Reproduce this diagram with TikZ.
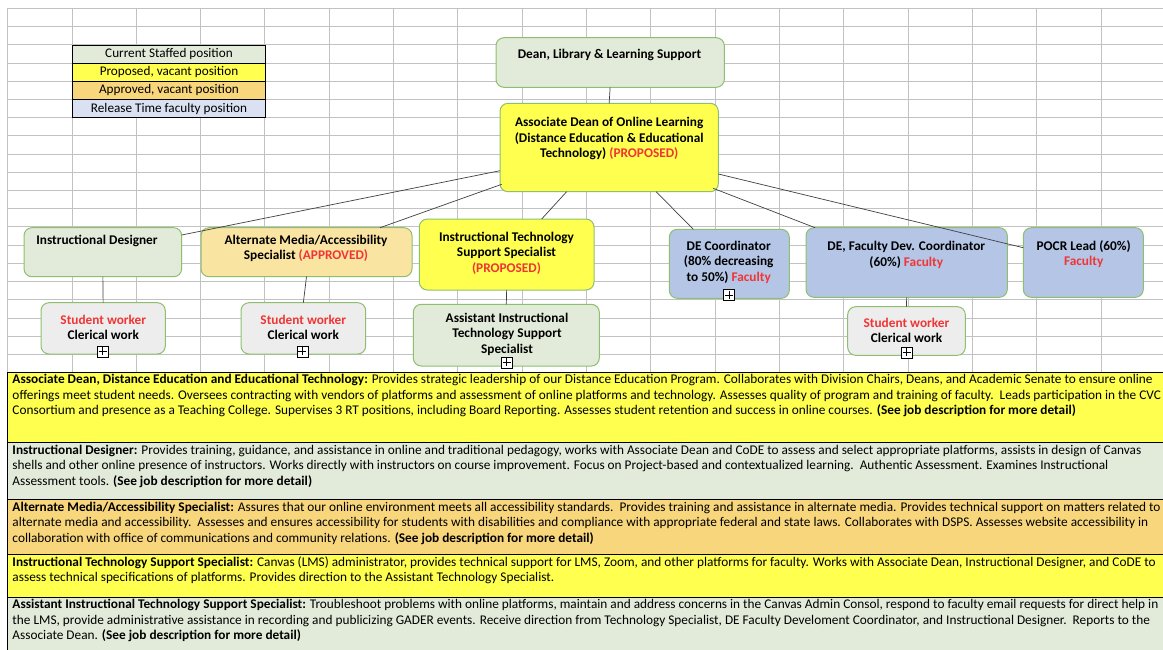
\documentclass[tikz,border=0pt]{standalone}
\usepackage{fontspec}
\setmainfont{Carlito}
\usetikzlibrary{calc}

\definecolor{gridc}{HTML}{C2C2C2}
\definecolor{staffed}{HTML}{E2EBDA}
\definecolor{proposed}{HTML}{FFFF50}
\definecolor{approved}{HTML}{F8D67C}
\definecolor{altfill}{HTML}{FAE4A2}
\definecolor{release}{HTML}{D9E1F2}
\definecolor{facfill}{HTML}{B4C5E6}
\definecolor{swfill}{HTML}{EDEDED}
\definecolor{boxline}{HTML}{8EBF6E}
\definecolor{redt}{HTML}{F03535}
\definecolor{conn}{HTML}{404040}

\newcommand{\orgbox}[6]{%
  \node[orgbox, fill=#6, minimum width={#4pt-#2pt}, minimum height={#5pt-#3pt}]
    (#1) at ({(#2+#4)/2},{(#3+#5)/2}) {};}

\tikzset{
  gridline/.style={draw=gridc, line width=0.9pt},
  orgbox/.style={draw=boxline, line width=1pt, rounded corners=8pt, inner sep=0pt, outer sep=0pt},
  boxtext/.style={font=\fontsize{13.3}{15.6}\selectfont\bfseries, align=center, inner sep=0pt},
  legcell/.style={draw=black, line width=0.8pt},
  legtext/.style={font=\fontsize{13.2}{14}\selectfont, inner sep=0pt},
  connector/.style={draw=conn, line width=0.7pt},
  plusbox/.style={draw=black, fill=white, minimum size=11pt, inner sep=0pt, line width=0.6pt,
    path picture={\draw[line width=0.6pt]
      ([yshift=-1.5pt]path picture bounding box.north) -- ([yshift=1.5pt]path picture bounding box.south)
      ([xshift=1.5pt]path picture bounding box.west) -- ([xshift=-1.5pt]path picture bounding box.east);}},
  rowline/.style={draw=black, line width=1pt},
  rowtext/.style={font=\fontsize{13.3}{15.5}\selectfont, anchor=base west, inner sep=0pt},
}

\begin{document}
\begin{tikzpicture}[x=1pt,y=-1pt]
\useasboundingbox (0,0) rectangle (1163,649);
\clip (0,0) rectangle (1163,649);
\fill[white] (0,0) rectangle (1163,649);

% spreadsheet grid
\foreach \k in {0,...,18} {\draw[gridline] ({7.7+64.31*\k},8.3) -- ({7.7+64.31*\k},372.5);}
\foreach \k in {0,...,20} {\draw[gridline] (7.7,{8.3+18.22*\k}) -- (1170,{8.3+18.22*\k});}

% legend
\filldraw[legcell, fill=staffed]  (72.3,45)   rectangle (265.7,63.3);
\filldraw[legcell, fill=proposed] (72.3,63.3) rectangle (265.7,81.3);
\filldraw[legcell, fill=approved] (72.3,81.3) rectangle (265.7,99.3);
\filldraw[legcell, fill=release]  (72.3,99.3) rectangle (265.7,117.7);
\node[legtext] (leg1) at (169,54.2)  {Current Staffed position};
\node[legtext] (leg2) at (169,72.3)  {Proposed, vacant position};
\node[legtext] (leg3) at (169,90.3)  {Approved, vacant position};
\node[legtext] (leg4) at (169,108.5) {Release Time faculty position};

% boxes
\orgbox{dean}{496}{37.7}{724.3}{87.3}{staffed}
\orgbox{assoc}{500}{103.3}{718.3}{191.7}{proposed}
\orgbox{id}{24}{227.7}{181.7}{276.7}{staffed}
\orgbox{alt}{201}{227.7}{412}{276.7}{altfill}
\orgbox{itss}{419.3}{219}{594}{290}{proposed}
\orgbox{aitss}{413.3}{304.3}{599.3}{366}{staffed}
\orgbox{decoord}{669.3}{229.3}{789.3}{298.3}{facfill}
\orgbox{defdc}{806}{227.7}{1007.3}{297.3}{facfill}
\orgbox{pocr}{1023.3}{227.7}{1143.3}{297.3}{facfill}
\orgbox{swa}{41}{302.7}{165.3}{354}{swfill}
\orgbox{swb}{241}{302.7}{365.7}{354}{swfill}
\orgbox{swc}{847.7}{306.7}{965.3}{355.3}{swfill}

% box texts
\node[boxtext] (deanT) at (609.5,54.5) {Dean, Library \& Learning Support};
\node[boxtext] (assocT) at (609.2,138.6) {Associate Dean of Online Learning\\(Distance Education \& Educational\\Technology) \textcolor{redt}{(PROPOSED)}};
\node[boxtext] (idT) at (97,240.9) {Instructional Designer};
\node[boxtext] (altT) at (306,248.4) {Alternate Media/Accessibility\\Specialist \textcolor{redt}{(APPROVED)}};
\node[boxtext] (itssT) at (506.5,253.2) {Instructional Technology\\Support Specialist\\\textcolor{redt}{(PROPOSED)}};
\node[boxtext] (aitssT) at (507,334.2) {Assistant Instructional\\Technology Support\\Specialist};
\node[boxtext] (decoordT) at (728.7,262.2) {DE Coordinator\\(80\% decreasing\\to 50\%) \textcolor{redt}{Faculty}};
\node[boxtext] (defdcT) at (906.3,254.6) {DE, Faculty Dev. Coordinator\\(60\%) \textcolor{redt}{Faculty}};
\node[boxtext] (pocrT) at (1083.7,254.2) {POCR Lead (60\%)\\\textcolor{redt}{Faculty}};
\node[boxtext] (swaT) at (103.3,327.2) {\textcolor{redt}{Student worker}\\Clerical work};
\node[boxtext] (swbT) at (303.3,327.2) {\textcolor{redt}{Student worker}\\Clerical work};
\node[boxtext] (swcT) at (906.5,330.2) {\textcolor{redt}{Student worker}\\Clerical work};

% expand markers
\node[plusbox] (pa) at (102.7,351.4) {};
\node[plusbox] (pb) at (302.3,351.4) {};
\node[plusbox] (pc) at (506.7,362.4) {};
\node[plusbox] (pd) at (729,294.8) {};
\node[plusbox] (pe) at (906.7,352.4) {};

% connectors
\draw[connector] (dean.south) -- (assoc.north);
\draw[connector] ([yshift=-23.2pt]assoc.west) -- ([yshift=17.2pt]id.east);
\draw[connector] ([xshift=1.7pt,yshift=-36.8pt]assoc.west) -- ([xshift=73.5pt]alt.north);
\draw[connector] ([xshift=-42.5pt]assoc.south) -- ([xshift=35pt]itss.north);
\draw[connector] ([xshift=47pt]assoc.south) -- ([xshift=-36pt]decoord.north);
\draw[connector] ([xshift=104pt,yshift=3.4pt]assoc.south) -- ([xshift=-91.6pt]defdc.north);
\draw[connector] ([yshift=-26.5pt]assoc.east) -- ([yshift=14.8pt]pocr.west);
\draw[connector] (id.south) -- (swa.north);
\draw[connector] (alt.south) -- (swb.north);
\draw[connector] (itss.south) -- (aitss.north);
\draw[connector] (defdc.south) -- (swc.north);

% description table
\filldraw[rowline, fill=proposed] (7.7,372.3) rectangle (1175,442.3);
\filldraw[rowline, fill=staffed]  (7.7,442.3) rectangle (1175,499.3);
\filldraw[rowline, fill=approved] (7.7,499.3) rectangle (1175,554.3);
\filldraw[rowline, fill=proposed] (7.7,554.3) rectangle (1175,597.7);
\filldraw[rowline, fill=staffed]  (7.7,597.7) rectangle (1175,660);

\node[rowtext] (r1a) at (12.3,383.6) {\textbf{Associate Dean, Distance Education and Educational Technology:} Provides strategic leadership of our Distance Education Program. Collaborates with Division Chairs, Deans, and Academic Senate to ensure online};
\node[rowtext] (r1b) at (12.3,399.1) {offerings meet student needs. Oversees contracting with vendors of platforms and assessment of online platforms and technology. Assesses quality of program and training of faculty.\ \ Leads participation in the CVC};
\node[rowtext] (r1c) at (12.3,414.6) {Consortium and presence as a Teaching College. Supervises 3 RT positions, including Board Reporting. Assesses student retention and success in online courses. \textbf{(See job description for more detail)}};

\node[rowtext] (r2a) at (12.3,454.3) {\textbf{Instructional Designer:} Provides training, guidance, and assistance in online and traditional pedagogy, works with Associate Dean and CoDE to assess and select appropriate platforms, assists in design of Canvas};
\node[rowtext] (r2b) at (12.3,469.8) {shells and other online presence of instructors. Works directly with instructors on course improvement. Focus on Project-based and contextualized learning.\ \ Authentic Assessment. Examines Instructional};
\node[rowtext] (r2c) at (12.3,485.3) {Assessment tools. \textbf{(See job description for more detail)}};

\node[rowtext] (r3a) at (12.3,511.0) {\textbf{Alternate Media/Accessibility Specialist:} Assures that our online environment meets all accessibility standards.\ \ Provides training and assistance in alternate media. Provides technical support on matters related to};
\node[rowtext] (r3b) at (12.3,526.5) {alternate media and accessibility.\ \ Assesses and ensures accessibility for students with disabilities and compliance with appropriate federal and state laws. Collaborates with DSPS. Assesses website accessibility in};
\node[rowtext] (r3c) at (12.3,542.0) {collaboration with office of communications and community relations. \textbf{(See job description for more detail)}};

\node[rowtext] (r4a) at (12.3,566.3) {\textbf{Instructional Technology Support Specialist:} Canvas (LMS) administrator, provides technical support for LMS, Zoom, and other platforms for faculty. Works with Associate Dean, Instructional Designer, and CoDE to};
\node[rowtext] (r4b) at (12.3,581.8) {assess technical specifications of platforms. Provides direction to the Assistant Technology Specialist.};

\node[rowtext] (r5a) at (12.3,608.6) {\textbf{Assistant Instructional Technology Support Specialist:} Troubleshoot problems with online platforms, maintain and address concerns in the Canvas Admin Consol, respond to faculty email requests for direct help in};
\node[rowtext] (r5b) at (12.3,624.1) {the LMS, provide administrative assistance in recording and publicizing GADER events. Receive direction from Technology Specialist, DE Faculty Develoment Coordinator, and Instructional Designer.\ \ Reports to the};
\node[rowtext] (r5c) at (12.3,639.6) {Associate Dean. \textbf{(See job description for more detail)}};
\end{tikzpicture}
\end{document}
